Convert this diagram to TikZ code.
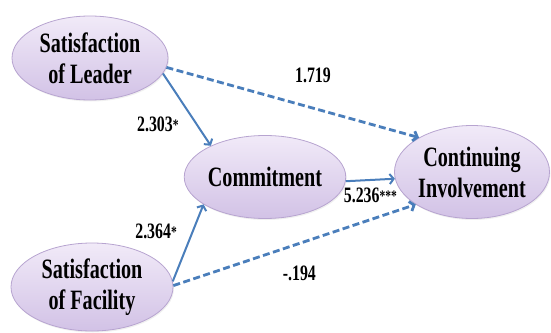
\documentclass[tikz,border=0pt]{standalone}
\usepackage{fontspec}
\setmainfont[FakeStretch=0.72]{Liberation Serif}
\usetikzlibrary{arrows.meta,shapes.geometric,shadows,positioning}
\definecolor{pathblue}{HTML}{4A7EBB}
\definecolor{lavtop}{HTML}{F1EAF8}
\definecolor{lavbot}{HTML}{D2C2E6}
\definecolor{lavline}{HTML}{B7A4D0}
\newcommand{\st}[1]{\raisebox{1pt}{\fontsize{16}{16}\selectfont #1}}
\begin{document}
\begin{tikzpicture}[x=1pt, y=-1pt, -{Straight Barb[length=4pt,width=10pt]},
                    main/.style = {ellipse, draw=lavline, line width=0.8pt, top color=lavtop, bottom color=lavbot,
                                   drop shadow={opacity=0.12, shadow xshift=1pt, shadow yshift=-1.5pt},
                                   inner sep=0pt, align=center, font=\bfseries\fontsize{28}{31}\selectfont},
                    solidpath/.style = {draw=pathblue, line width=2pt},
                    dashpath/.style = {draw=pathblue, line width=2.8pt, dash pattern=on 7pt off 3.5pt},
                    coef/.style = {inner sep=0pt, font=\bfseries\fontsize{22}{22}\selectfont}]
\useasboundingbox (0,0) rectangle (551,332);
\node[main, minimum width=156pt, minimum height=84pt] (leader) at (90,58) {Satisfaction\\of Leader};
\node[main, minimum width=162pt, minimum height=88pt] (facility) at (92,287) {Satisfaction\\of Facility};
\node[main, minimum width=154pt, minimum height=83pt] (commit) at (265,177) {Commitment};
\node[main, minimum width=155pt, minimum height=93pt] (involve) at (472,172) {Continuing\\Involvement};
\path
(leader.-12) edge[solidpath] node[coef, pos=0.7, left=17pt] {2.303\st{*}} (commit.150)
(leader.-7) edge[dashpath] node[coef, pos=0.58, above=24pt] {1.719} (involve.147)
(commit.-3) edge[solidpath] node[coef, midway, below=7pt] {5.236\st{***}} (involve.185)
(facility.4) edge[solidpath] node[coef, pos=0.65, left=15pt] {2.364\st{*}} (commit.204)
(facility.1) edge[dashpath] node[coef, pos=0.52, below=21pt] {-.194} (involve.210);
\end{tikzpicture}
\end{document}
